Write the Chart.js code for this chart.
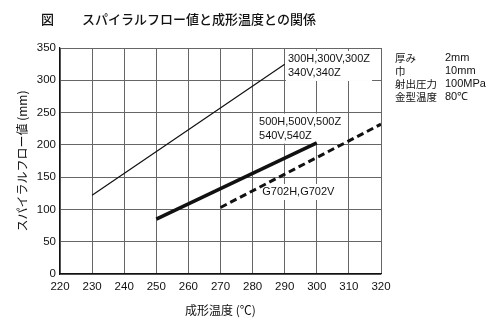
<!DOCTYPE html>
<html>
<head>
<meta charset="utf-8">
<script src="https://cdn.jsdelivr.net/npm/chart.js@4.4.1/dist/chart.umd.min.js"></script>
<style>
  html, body { margin: 0; padding: 0; background: #fff; }
  #wrap { width: 500px; height: 326px; position: relative; }
</style>
</head>
<body>
<div id="wrap"><canvas id="flowChart" width="500" height="326"></canvas></div>
<script>
// ticks
var tempTicks = [220, 230, 240, 250, 260, 270, 280, 290, 300, 310, 320];
var flowTicks = [0, 50, 100, 150, 200, 250, 300, 350];

// series: molding temperature (°C) -> spiral flow (mm)
var temp300 = [230, 290];
var flow300 = [122, 325];
var temp500 = [250, 300];
var flow500 = [85, 203];
var tempG702 = [270, 320];
var flowG702 = [103, 232];

var seriesNames = ['300H,300V,300Z\n340V,340Z', '500H,500V,500Z\n540V,540Z', 'G702H,G702V'];

// test conditions
var condNames = ['厚み', '巾', '射出圧力', '金型温度'];
var condValues = ['2mm', '10mm', '100MPa', '80℃'];

var titleText = 'スパイラルフロー値と成形温度との関係';

function toPoints(xs, ys) {
  return xs.map(function (x, i) { return { x: x, y: ys[i] }; });
}

var latin = "'Liberation Sans', Arial, sans-serif";
var cjk = "'Noto Sans CJK JP', sans-serif";

// series labels placed in data units (left edge, first line centre)
var labelSpots = [
  { x: 291, y: 333 },
  { x: 282, y: 236 },
  { x: 283, y: 127 }
];

var decorations = {
  id: 'decorations',
  beforeDatasetsDraw: function (chart) {
    var ctx = chart.ctx;
    var sx = chart.scales.x, sy = chart.scales.y;
    ctx.save();
    ctx.font = '11px ' + latin;
    ctx.textBaseline = 'middle';
    ctx.textAlign = 'left';
    seriesNames.forEach(function (name, i) {
      var lines = name.split('\n');
      var px = sx.getPixelForValue(labelSpots[i].x);
      var py = sy.getPixelForValue(labelSpots[i].y);
      var w = 0;
      lines.forEach(function (l) { w = Math.max(w, ctx.measureText(l).width); });
      ctx.fillStyle = '#fff';
      ctx.fillRect(px - 2, py - 8, w + 4, lines.length * 14 + 2);
      ctx.fillStyle = '#111';
      lines.forEach(function (l, j) { ctx.fillText(l, px, py + j * 14); });
    });
    ctx.restore();
  },
  afterDraw: function (chart) {
    var ctx = chart.ctx;
    ctx.save();
    ctx.fillStyle = '#111';
    ctx.textBaseline = 'middle';
    ctx.textAlign = 'left';
    ctx.font = '500 13px ' + cjk;
    ctx.fillText('図', 41, 19);
    ctx.fillText(titleText, 82, 19);

    condNames.forEach(function (n, i) {
      var y = 58 + i * 13;
      ctx.font = '10.5px ' + cjk;
      ctx.fillText(n, 395, y);
      ctx.font = '11px ' + latin;
      ctx.fillText(condValues[i], 445, y);
    });
    ctx.restore();
  }
};

var ctx = document.getElementById('flowChart');
var myChart = new Chart(ctx, {
  type: 'line',
  data: {
    datasets: [
      {
        label: '300',
        data: toPoints(temp300, flow300),
        borderColor: '#111',
        borderWidth: 1.2
      },
      {
        label: '500',
        data: toPoints(temp500, flow500),
        borderColor: '#111',
        borderWidth: 3.5
      },
      {
        label: 'G702',
        data: toPoints(tempG702, flowG702),
        borderColor: '#111',
        borderWidth: 3,
        borderDash: [7, 4]
      }
    ]
  },
  options: {
    responsive: false,
    animation: false,
    parsing: false,
    elements: { point: { radius: 0 }, line: { tension: 0 } },
    layout: { padding: { top: 48, right: 119, left: 0, bottom: 0 } },
    plugins: { legend: { display: false }, tooltip: { enabled: false } },
    scales: {
      x: {
        type: 'linear',
        min: 220,
        max: 320,
        afterBuildTicks: function (s) { s.ticks = tempTicks.map(function (v) { return { value: v }; }); },
        afterFit: function (s) { s.height = 52; },
        grid: { color: '#666', lineWidth: 1, drawTicks: false },
        border: { color: '#111', width: 1.2 },
        ticks: { padding: 6, color: '#111', font: { family: latin, size: 11.5 }, maxRotation: 0 },
        title: {
          display: true,
          text: '成形温度 (℃)',
          color: '#111',
          font: { family: cjk, size: 12 },
          padding: { top: 0, bottom: 8 }
        }
      },
      y: {
        min: 0,
        max: 350,
        afterBuildTicks: function (s) { s.ticks = flowTicks.map(function (v) { return { value: v }; }); },
        afterFit: function (s) { s.width = 60; },
        grid: { color: '#666', lineWidth: 1, drawTicks: false },
        border: { color: '#111', width: 1.2 },
        ticks: { padding: 4, color: '#111', font: { family: latin, size: 11.5 } },
        title: {
          display: true,
          text: 'スパイラルフロー値 (mm)',
          color: '#111',
          font: { family: cjk, size: 12 },
          padding: { top: 15, bottom: 0 }
        }
      }
    }
  },
  plugins: [decorations]
});
</script>
</body>
</html>
